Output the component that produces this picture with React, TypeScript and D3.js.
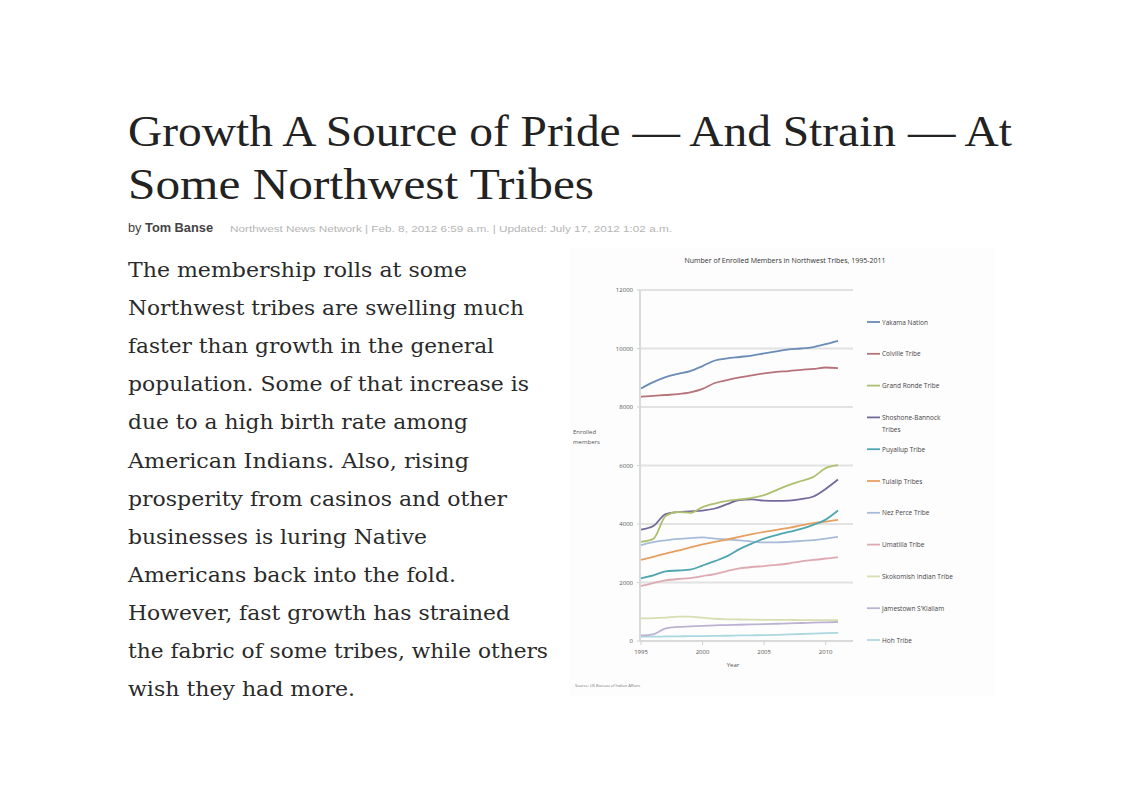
import React from "react";
import * as d3 from "d3";

const years = [1995, 1996, 1997, 1998, 1999, 2000, 2001, 2002, 2003, 2004, 2005, 2006, 2007, 2008, 2009, 2010, 2011];

const yakama = [8630, 8850, 9020, 9130, 9230, 9400, 9590, 9660, 9710, 9760, 9830, 9900, 9970, 10000, 10050, 10150, 10260];
const colville = [8350, 8380, 8410, 8440, 8500, 8620, 8820, 8920, 9010, 9080, 9150, 9200, 9230, 9270, 9300, 9350, 9330];
const grandRonde = [3390, 3490, 4270, 4410, 4380, 4580, 4700, 4790, 4840, 4890, 4990, 5160, 5330, 5470, 5610, 5910, 6010];
const shoshoneBannock = [3810, 3930, 4340, 4410, 4430, 4460, 4530, 4680, 4820, 4840, 4800, 4790, 4800, 4850, 4940, 5200, 5520];
const puyallup = [2140, 2240, 2380, 2410, 2440, 2580, 2730, 2900, 3140, 3330, 3500, 3620, 3730, 3830, 3970, 4150, 4460];
const tulalip = [2770, 2880, 2990, 3090, 3200, 3300, 3390, 3470, 3560, 3650, 3730, 3800, 3870, 3950, 4030, 4080, 4140];
const nezPerce = [3280, 3380, 3440, 3490, 3520, 3540, 3500, 3470, 3440, 3400, 3370, 3370, 3390, 3420, 3450, 3500, 3560];
const umatilla = [1880, 1980, 2070, 2120, 2150, 2220, 2290, 2390, 2480, 2530, 2560, 2600, 2650, 2720, 2770, 2820, 2860];
const skokomish = [770, 780, 800, 830, 830, 800, 760, 740, 735, 730, 725, 720, 720, 715, 715, 715, 715];
const jamestown = [190, 230, 430, 480, 500, 520, 535, 545, 555, 565, 575, 590, 600, 615, 625, 640, 650];
const hoh = [150, 150, 155, 160, 165, 170, 175, 180, 190, 195, 200, 210, 225, 240, 255, 270, 280];

const seriesNames = [
  "Yakama Nation",
  "Colville Tribe",
  "Grand Ronde Tribe",
  "Shoshone-Bannock Tribes",
  "Puyallup Tribe",
  "Tulalip Tribes",
  "Nez Perce Tribe",
  "Umatilla Tribe",
  "Skokomish Indian Tribe",
  "Jamestown S'Klallam",
  "Hoh Tribe",
];
const seriesValues = [yakama, colville, grandRonde, shoshoneBannock, puyallup, tulalip, nezPerce, umatilla, skokomish, jamestown, hoh];
const seriesColors = ["#6a8cb6", "#b5737a", "#adc070", "#74699a", "#4fa6b0", "#e6a062", "#a8bcda", "#ddaab2", "#d6deb2", "#bcb2d2", "#abd8e0"];

const yTicks = [0, 2000, 4000, 6000, 8000, 10000, 12000];
const xTicks = [1995, 2000, 2005, 2010];

const titleLines = ["Growth A Source of Pride \u2014 And Strain \u2014 At", "Some Northwest Tribes"];
const bylinePrefix = "by ";
const bylineAuthor = "Tom Banse";
const bylineMeta = "Northwest News Network | Feb. 8, 2012 6:59 a.m. | Updated: July 17, 2012 1:02 a.m.";
const paragraphLines = [
  "The membership rolls at some",
  "Northwest tribes are swelling much",
  "faster than growth in the general",
  "population. Some of that increase is",
  "due to a high birth rate among",
  "American Indians. Also, rising",
  "prosperity from casinos and other",
  "businesses is luring Native",
  "Americans back into the fold.",
  "However, fast growth has strained",
  "the fabric of some tribes, while others",
  "wish they had more.",
];
const paragraphWidths = [339, 396, 366, 401, 340, 341, 379, 299, 328, 382, 420, 227];

const chartTitle = "Number of Enrolled Members in Northwest Tribes, 1995-2011";

export default function App() {
  const x = d3.scaleLinear().domain([1995, 2011]).range([641, 838]);
  const y = d3.scaleLinear().domain([0, 12000]).range([641, 290]);
  const line = d3
    .line<number>()
    .x((_, i) => x(years[i]))
    .y((d) => y(d))
    .curve(d3.curveMonotoneX);

  const legendY = d3.scaleLinear().domain([0, 10]).range([322, 640]);
  const serif = "'Liberation Serif', 'DejaVu Serif', serif";
  const bodySerif = "'DejaVu Serif', 'Liberation Serif', serif";
  const sans = "'Liberation Sans', Arial, sans-serif";
  const chartFont = "'Open Sans', 'Liberation Sans', sans-serif";

  return (
    <svg width={1140} height={798} style={{ position: "absolute", left: 0, top: 0, background: "#fff" }}>
      <rect x={0} y={0} width={1140} height={798} fill="#fff" />
      {/* Title */}
      <text x={128} y={146} fontFamily={serif} fontSize={44} fill="#222" textLength={884} lengthAdjust="spacingAndGlyphs">
        {titleLines[0]}
      </text>
      <text x={128} y={199} fontFamily={serif} fontSize={44} fill="#222" textLength={466} lengthAdjust="spacingAndGlyphs">
        {titleLines[1]}
      </text>
      {/* Byline */}
      <text x={128} y={232} fontFamily={sans} fontSize={12} fill="#444" textLength={85} lengthAdjust="spacingAndGlyphs">
        <tspan>{bylinePrefix}</tspan>
        <tspan fontWeight="bold">{bylineAuthor}</tspan>
      </text>
      <text x={230} y={232} fontFamily={sans} fontSize={9} fill="#b5b5b5" textLength={442} lengthAdjust="spacingAndGlyphs">
        {bylineMeta}
      </text>
      {/* Paragraph */}
      {paragraphLines.map((t, i) => (
        <text
          key={i}
          x={128}
          y={277 + i * 38.1}
          fontFamily={bodySerif}
          fontSize={20}
          fill="#2a2a2a"
          textLength={paragraphWidths[i]}
          lengthAdjust="spacingAndGlyphs"
        >
          {t}
        </text>
      ))}

      {/* Chart */}
      <g>
        <rect x={570} y={248} width={425} height={448} fill="#fdfdfd" />
        <text x={785} y={263} fontFamily={chartFont} fontSize={7} fill="#333" textAnchor="middle">
          {chartTitle}
        </text>
        {yTicks.map((t) => (
          <g key={t}>
            {t > 0 && <line x1={641} x2={853} y1={y(t)} y2={y(t)} stroke="#e2e2e2" strokeWidth={2} />}
            <line x1={637} x2={641} y1={y(t)} y2={y(t)} stroke="#d0d0d0" strokeWidth={1} />
            <text x={633} y={y(t) + 2} fontFamily={chartFont} fontSize={6} fill="#555" textAnchor="end">
              {t}
            </text>
          </g>
        ))}
        <line x1={640} x2={640} y1={290} y2={641} stroke="#dadada" strokeWidth={2} />
        <line x1={640} x2={853} y1={641} y2={641} stroke="#dadada" strokeWidth={2} />
        {xTicks.map((t) => (
          <g key={t}>
            <line x1={x(t)} x2={x(t)} y1={641} y2={645} stroke="#d0d0d0" strokeWidth={1} />
            <text x={x(t)} y={654} fontFamily={chartFont} fontSize={6} fill="#555" textAnchor="middle">
              {t}
            </text>
          </g>
        ))}
        <text x={733} y={667} fontFamily={chartFont} fontSize={6} fill="#555" textAnchor="middle">
          Year
        </text>
        <text x={573} y={434} fontFamily={chartFont} fontSize={6} fill="#555">
          Enrolled
        </text>
        <text x={573} y={444} fontFamily={chartFont} fontSize={6} fill="#555">
          members
        </text>
        <text x={575} y={687} fontFamily={chartFont} fontSize={4} fill="#777">
          Source: US Bureau of Indian Affairs
        </text>
        {seriesValues
          .map((vals, i) => ({ vals, i }))
          .reverse()
          .map(({ vals, i }) => (
            <path key={i} d={line(vals) || ""} fill="none" stroke={seriesColors[i]} strokeWidth={1.8} />
          ))}
        {seriesNames.map((name, i) => {
          const ly = legendY(i);
          const parts = name === "Shoshone-Bannock Tribes" ? ["Shoshone-Bannock", "Tribes"] : [name];
          return (
            <g key={name}>
              <line x1={867} x2={880} y1={ly} y2={ly} stroke={seriesColors[i]} strokeWidth={1.8} />
              {parts.map((p, j) => (
                <text key={j} x={882} y={ly + 2.5 + j * 12} fontFamily={chartFont} fontSize={6.5} fill="#444">
                  {p}
                </text>
              ))}
            </g>
          );
        })}
      </g>
    </svg>
  );
}
